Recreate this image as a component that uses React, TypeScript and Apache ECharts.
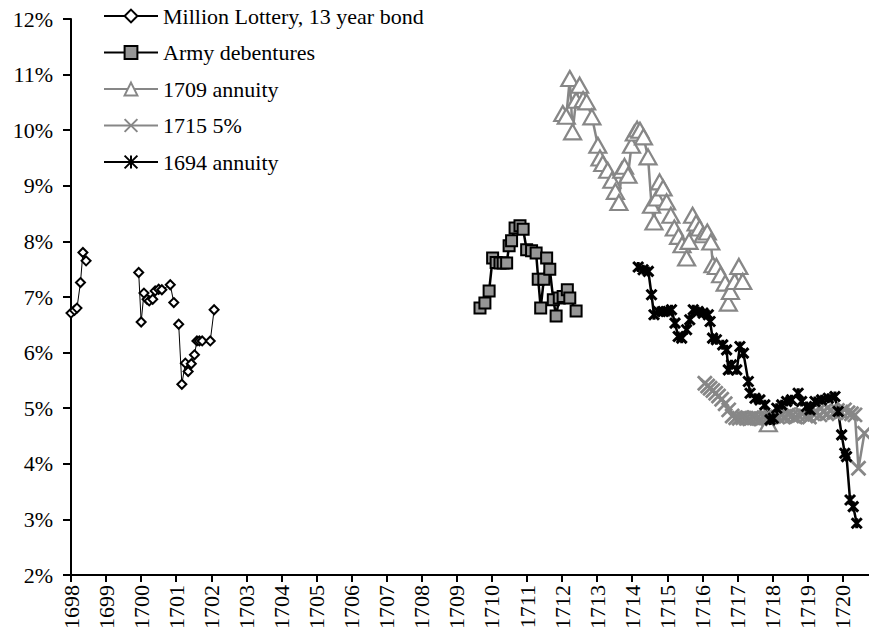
import React, { useEffect, useRef } from 'react';
import * as echarts from 'echarts';

// ---- data (year, yield %) ; null = gap in the line ----
type Pt = [number, number] | null;

const seriesNames = [
  'Million Lottery, 13 year bond',
  'Army debentures',
  '1709 annuity',
  '1715 5%',
  '1694 annuity',
];

const millionLottery: Pt[] = [
  [1698.0, 6.71], [1698.1, 6.76], [1698.17, 6.8], [1698.27, 7.26], [1698.34, 7.8], [1698.43, 7.65],
  null,
  [1699.93, 7.44], [1700.0, 6.55], [1700.08, 7.07], [1700.17, 6.96], [1700.23, 6.93], [1700.33, 6.96],
  [1700.4, 7.11], [1700.5, 7.14], [1700.59, 7.13], [1700.83, 7.22], [1700.93, 6.9],
  null,
  [1701.07, 6.51], [1701.16, 5.43], [1701.26, 5.81], [1701.34, 5.66], [1701.43, 5.8], [1701.52, 5.96],
  [1701.59, 6.21], [1701.66, 6.21], [1701.74, 6.21], [1701.97, 6.21], [1702.08, 6.77],
];

const armyDebentures: Pt[] = [
  [1709.66, 6.8], [1709.8, 6.89], [1709.92, 7.11], [1710.02, 7.7], [1710.12, 7.62], [1710.23, 7.61],
  [1710.32, 7.61], [1710.42, 7.61], [1710.49, 7.92], [1710.56, 8.01], [1710.66, 8.24], [1710.8, 8.28],
  [1710.89, 8.22], [1710.99, 7.85], [1711.13, 7.83], [1711.26, 7.79], [1711.32, 7.32], [1711.39, 6.8],
  [1711.48, 7.32], [1711.56, 7.7], [1711.65, 7.5], [1711.75, 6.95], [1711.83, 6.66], [1711.92, 6.98],
  [1712.03, 7.01], [1712.15, 7.13], [1712.22, 6.98], [1712.4, 6.75],
];

const annuity1709: Pt[] = [
  [1712.02, 10.3], [1712.12, 10.25], [1712.22, 10.93], [1712.3, 9.97], [1712.4, 10.54], [1712.5, 10.81],
  [1712.6, 10.55], [1712.7, 10.51], [1712.85, 10.24], [1713.02, 9.73], [1713.08, 9.5], [1713.16, 9.4],
  [1713.3, 9.28], [1713.42, 9.1], [1713.52, 8.9], [1713.62, 8.7], [1713.7, 9.28], [1713.78, 9.35],
  [1713.88, 9.19], [1713.98, 9.73], [1714.06, 9.95], [1714.14, 10.02], [1714.22, 10.0], [1714.32, 9.88],
  [1714.45, 9.52], [1714.55, 8.65], [1714.62, 8.35], [1714.7, 8.78], [1714.78, 9.07], [1714.88, 8.96],
  [1714.98, 8.71], [1715.1, 8.47], [1715.2, 8.24], [1715.32, 8.09], [1715.42, 7.94], [1715.55, 7.7],
  [1715.62, 8.0], [1715.72, 8.47], [1715.82, 8.33], [1715.92, 8.24], [1716.02, 8.12], [1716.14, 8.17],
  [1716.24, 7.99], [1716.3, 7.58], [1716.4, 7.55], [1716.52, 7.4], [1716.65, 7.25], [1716.74, 6.89],
  [1716.8, 7.1], [1716.92, 7.28], [1717.04, 7.55], [1717.15, 7.28],
  null,
  [1717.88, 4.72],
];

const fivePct1715: Pt[] = [
  [1716.07, 5.45], [1716.15, 5.4], [1716.22, 5.36], [1716.3, 5.32], [1716.38, 5.27], [1716.46, 5.22],
  [1716.55, 5.16], [1716.65, 5.08], [1716.75, 4.97], [1716.85, 4.86], [1716.95, 4.83], [1717.05, 4.82],
  [1717.15, 4.83], [1717.25, 4.82], [1717.35, 4.81], [1717.45, 4.83], [1717.55, 4.82], [1717.65, 4.81],
  [1717.75, 4.83], [1717.85, 4.82], [1717.95, 4.84], [1718.05, 4.86], [1718.15, 4.84], [1718.25, 4.87],
  [1718.35, 4.85], [1718.45, 4.88], [1718.55, 4.86], [1718.65, 4.84], [1718.75, 4.87], [1718.85, 4.89],
  [1718.95, 4.86], [1719.05, 4.84], [1719.15, 4.9], [1719.25, 4.92], [1719.35, 4.88], [1719.45, 4.93],
  [1719.55, 4.9], [1719.65, 4.95], [1719.75, 4.92], [1719.85, 4.96], [1719.95, 4.93], [1720.05, 4.97],
  [1720.15, 4.92], [1720.25, 4.9], [1720.35, 4.88], [1720.45, 3.92], [1720.62, 4.55],
];

const annuity1694: Pt[] = [
  [1714.17, 7.54], [1714.31, 7.49], [1714.46, 7.46], [1714.55, 7.04], [1714.62, 6.68], [1714.74, 6.74],
  [1714.88, 6.74], [1715.03, 6.74], [1715.12, 6.77], [1715.22, 6.53], [1715.31, 6.29], [1715.41, 6.26],
  [1715.55, 6.41], [1715.64, 6.59], [1715.74, 6.77], [1715.88, 6.74], [1716.02, 6.71], [1716.17, 6.68],
  [1716.22, 6.56], [1716.29, 6.26], [1716.4, 6.23], [1716.58, 6.14], [1716.69, 6.05], [1716.74, 5.69],
  [1716.83, 5.78], [1716.98, 5.69], [1717.07, 6.11], [1717.17, 5.99], [1717.31, 5.48], [1717.36, 5.27],
  [1717.5, 5.18], [1717.64, 5.15], [1717.78, 5.06], [1717.93, 4.79], [1718.02, 4.82], [1718.12, 5.0],
  [1718.26, 5.06], [1718.4, 5.12], [1718.54, 5.15], [1718.73, 5.27], [1718.83, 5.12], [1718.97, 5.03],
  [1719.07, 4.97], [1719.21, 5.12], [1719.4, 5.15], [1719.59, 5.18], [1719.78, 5.21], [1719.87, 4.94],
  [1719.97, 4.52], [1720.06, 4.19], [1720.11, 4.13], [1720.21, 3.35], [1720.3, 3.23], [1720.4, 2.93],
];

const xMin = 1698;
const xMax = 1720.75;
const yMin = 2;
const yMax = 12;

const FONT = 'Liberation Serif';
const GRAY = '#878787';

function toData(pts: Pt[]) {
  let lastX = 0;
  return pts.map((p) => {
    if (p === null) return [lastX + 0.01, '-'];
    lastX = p[0];
    return p;
  });
}

const X_SYMBOL = 'path://M0,0L10,10M10,0L0,10';
const STAR_SYMBOL = 'path://M0,0L10,10M10,0L0,10M5,0L5,10';

export default function App() {
  const ref = useRef<HTMLDivElement>(null);
  useEffect(() => {
    if (!ref.current) return;
    const chart = echarts.init(ref.current, null, { renderer: 'svg' });
    chart.setOption({
      animation: false,
      backgroundColor: '#fff',
      textStyle: { fontFamily: FONT },
      grid: { left: 71, right: 0, top: 19, bottom: 60, containLabel: false },
      legend: {
        orient: 'vertical',
        left: 103,
        top: 5,
        padding: 0,
        itemWidth: 54,
        itemHeight: 16,
        itemGap: 14.5,
        data: seriesNames,
        textStyle: { fontFamily: FONT, fontSize: 22, color: '#000', lineHeight: 22 },
      },
      xAxis: {
        type: 'value',
        min: xMin,
        max: xMax,
        interval: 1,
        splitLine: { show: false },
        axisLine: { show: true, onZero: false, lineStyle: { color: '#000', width: 2 } },
        axisTick: { show: true, inside: false, length: 7, lineStyle: { color: '#000', width: 2 } },
        axisLabel: {
          rotate: 90,
          margin: 10,
          fontFamily: FONT,
          fontSize: 22,
          color: '#000',
          showMaxLabel: false,
          formatter: (v: number) => (Math.abs(v - Math.round(v)) < 1e-6 ? String(Math.round(v)) : ''),
        },
      },
      yAxis: {
        type: 'value',
        min: yMin,
        max: yMax,
        interval: 1,
        splitLine: { show: false },
        axisLine: { show: true, lineStyle: { color: '#000', width: 2 } },
        axisTick: { show: true, inside: false, length: 8, lineStyle: { color: '#000', width: 2 } },
        axisLabel: {
          margin: 18,
          fontFamily: FONT,
          fontSize: 22,
          color: '#000',
          formatter: '{value}%',
        },
      },
      series: [
        {
          name: seriesNames[0],
          type: 'line',
          data: toData(millionLottery),
          connectNulls: false,
          symbol: 'diamond',
          symbolSize: 9,
          lineStyle: { color: '#000', width: 1 },
          itemStyle: { color: '#fff', borderColor: '#000', borderWidth: 2 },
        },
        {
          name: seriesNames[1],
          type: 'line',
          data: toData(armyDebentures),
          connectNulls: false,
          symbol: 'rect',
          symbolSize: 11,
          lineStyle: { color: '#000', width: 2.5 },
          itemStyle: { color: '#969696', borderColor: '#000', borderWidth: 2 },
        },
        {
          name: seriesNames[2],
          type: 'line',
          data: toData(annuity1709),
          connectNulls: false,
          symbol: 'triangle',
          symbolSize: [17, 15],
          lineStyle: { color: GRAY, width: 2.5 },
          itemStyle: { color: '#fff', borderColor: GRAY, borderWidth: 2.2 },
        },
        {
          name: seriesNames[3],
          type: 'line',
          data: toData(fivePct1715),
          connectNulls: false,
          symbol: X_SYMBOL,
          symbolSize: 14,
          lineStyle: { color: GRAY, width: 2.5 },
          itemStyle: { color: 'none', borderColor: GRAY, borderWidth: 2.8 },
        },
        {
          name: seriesNames[4],
          type: 'line',
          data: toData(annuity1694),
          connectNulls: false,
          symbol: STAR_SYMBOL,
          symbolSize: 10,
          lineStyle: { color: '#000', width: 2.5 },
          itemStyle: { color: 'none', borderColor: '#000', borderWidth: 3 },
        },
      ],
    });
    return () => chart.dispose();
  }, []);
  return (
    <div
      ref={ref}
      style={{ position: 'absolute', left: 0, top: 0, width: 869, height: 635, background: '#fff' }}
    />
  );
}
